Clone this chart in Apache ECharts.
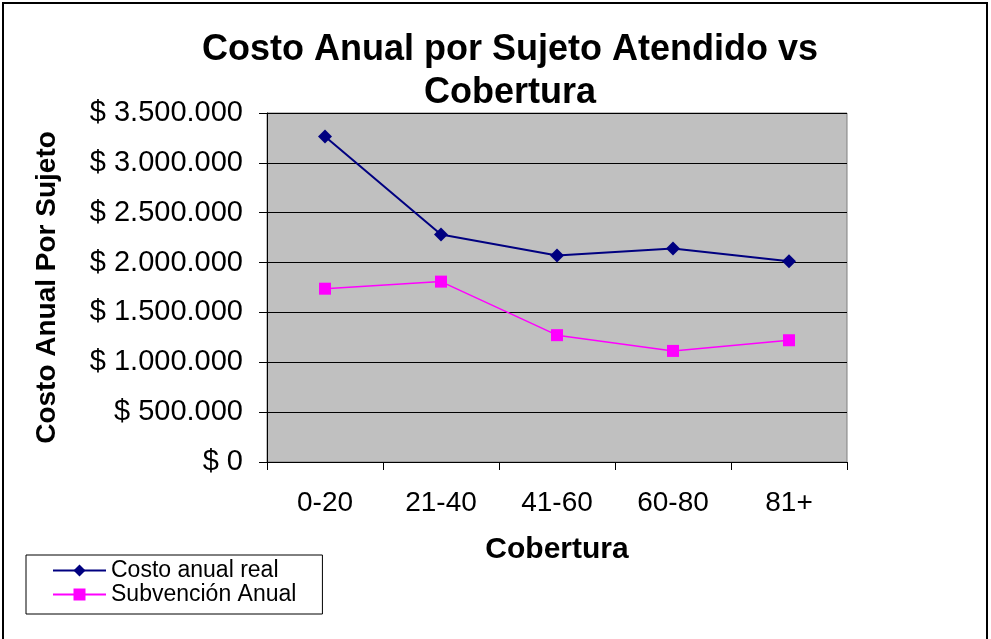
<!DOCTYPE html>
<html>
<head>
<meta charset="utf-8">
<script src="https://cdn.jsdelivr.net/npm/echarts@6/dist/echarts.min.js"></script>
<style>
  html, body { margin: 0; padding: 0; background: #fff; }
  #chart { width: 991px; height: 639px; }
</style>
</head>
<body>
<div id="chart"></div>
<script>
const categories = ['0-20', '21-40', '41-60', '60-80', '81+']
const costoReal = [3265000, 2282000, 2070000, 2141000, 2013000]
const subvencion = [1738000, 1809000, 1272000, 1114000, 1221000]
const yTicks = [0, 500000, 1000000, 1500000, 2000000, 2500000, 3000000, 3500000]

const font = 'Liberation Sans, Arial, sans-serif'

const fmtPeso = v => '$ ' + String(v).replace(/\B(?=(\d{3})+(?!\d))/g, '.')

const chart = echarts.init(document.getElementById('chart'))

const option = {
  animation: false,
  backgroundColor: '#fff',
  textStyle: { fontFamily: font },
  title: {
    text: 'Costo Anual por Sujeto Atendido vs\nCobertura',
    left: 505,
    textAlign: 'center',
    top: 24,
    textStyle: { fontSize: 36, fontWeight: 'bold', color: '#000', lineHeight: 43, fontFamily: font }
  },
  graphic: [{
    type: 'rect',
    shape: { x: 3, y: 3, width: 984, height: 640 },
    style: { fill: 'none', stroke: '#000', lineWidth: 2 }
  }],
  legend: {
    orient: 'vertical',
    left: 26,
    top: 555,
    padding: [4, 26, 8, 26],
    itemGap: 1,
    itemWidth: 53,
    itemHeight: 15,
    borderColor: '#000',
    borderWidth: 1,
    textStyle: { fontSize: 23, color: '#000', fontFamily: font },
    data: ['Costo anual real', 'Subvención Anual']
  },
  grid: {
    left: 267,
    right: 144,
    top: 113,
    bottom: 177,
    show: true,
    backgroundColor: '#C0C0C0',
    borderColor: '#808080',
    borderWidth: 1
  },
  xAxis: {
    type: 'category',
    data: categories,
    boundaryGap: true,
    name: 'Cobertura',
    nameLocation: 'middle',
    nameGap: 73,
    nameTextStyle: { fontSize: 30, fontWeight: 'bold', color: '#000', fontFamily: font },
    axisLine: { lineStyle: { color: '#000', width: 1 } },
    axisTick: { show: true, length: 8, lineStyle: { color: '#000' } },
    axisLabel: { fontSize: 28, color: '#000', margin: 27, fontFamily: font }
  },
  yAxis: {
    type: 'value',
    min: 0,
    max: 3500000,
    interval: 500000,
    name: 'Costo Anual Por Sujeto',
    nameLocation: 'middle',
    nameGap: 206,
    nameTextStyle: { fontSize: 28, fontWeight: 'bold', color: '#000', fontFamily: font },
    axisLine: { show: true, lineStyle: { color: '#000', width: 1 } },
    axisTick: { show: true, length: 8, lineStyle: { color: '#000' } },
    axisLabel: {
      fontSize: 29, color: '#000', margin: 24, fontFamily: font,
      formatter: v => yTicks.includes(v) ? fmtPeso(v) : ''
    },
    splitLine: { show: true, lineStyle: { color: '#000', width: 1 } }
  },
  series: [
    {
      name: 'Costo anual real',
      type: 'line',
      data: costoReal,
      symbol: 'diamond',
      symbolSize: 14,
      color: '#000080',
      lineStyle: { color: '#000080', width: 2 },
      itemStyle: { color: '#000080' }
    },
    {
      name: 'Subvención Anual',
      type: 'line',
      data: subvencion,
      symbol: 'rect',
      symbolSize: 12,
      color: '#FF00FF',
      lineStyle: { color: '#FF00FF', width: 1.5 },
      itemStyle: { color: '#FF00FF' }
    }
  ]
}

chart.setOption(option)
</script>
</body>
</html>
